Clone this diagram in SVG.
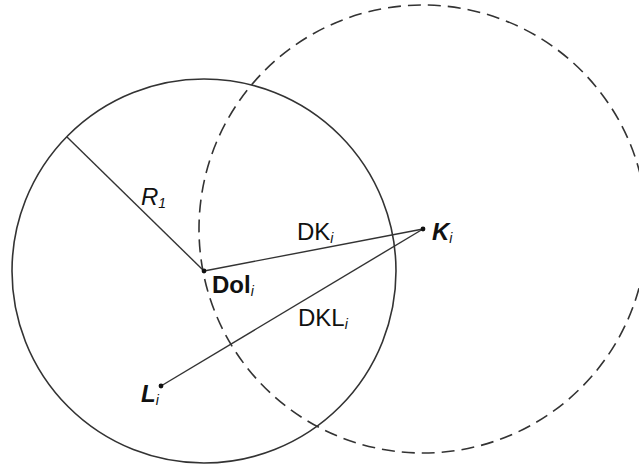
<svg xmlns="http://www.w3.org/2000/svg" width="639" height="468" viewBox="0 0 639 468">
<style>
.c{fill:none;stroke:#333;stroke-width:1.6}
.d{fill:none;stroke:#333;stroke-width:1.6;stroke-dasharray:13 7}
.l{stroke:#333;stroke-width:1.4}
.t{font-family:"Liberation Sans",Arial,sans-serif;font-size:24px;fill:#111}
.s{font-family:"Liberation Sans",Arial,sans-serif;font-size:14px;font-style:italic;fill:#111}
.dot{fill:#111}
</style>
<rect width="639" height="468" fill="#fff"/>
<g id="circle-solid"><circle class="c" cx="204" cy="271" r="192"/></g>
<g id="circle-dashed"><circle class="d" cx="423" cy="229" r="224"/></g>
<g id="connectors">
<line class="l" x1="204" y1="271" x2="67" y2="137"/>
<line class="l" x1="204" y1="271" x2="423" y2="229"/>
<line class="l" x1="161" y1="386" x2="423" y2="229"/>
</g>
<g id="Dol">
<circle class="dot" cx="204" cy="271" r="2.4"/>
<text class="t" x="212" y="293" font-weight="bold">Dol<tspan class="s" dy="3" font-weight="normal">i</tspan></text>
</g>
<g id="K">
<circle class="dot" cx="423" cy="229" r="2.4"/>
<text class="t" x="432" y="240" font-weight="bold" font-style="italic">K<tspan class="s" dy="3" font-weight="normal">i</tspan></text>
</g>
<g id="L">
<circle class="dot" cx="161" cy="386" r="2.4"/>
<text class="t" x="141" y="402" font-weight="bold" font-style="italic">L<tspan class="s" dy="3" font-weight="normal">i</tspan></text>
</g>
<g id="labels">
<text class="t" x="141" y="205" font-style="italic">R<tspan class="s" dy="3" font-style="normal">1</tspan></text>
<text class="t" x="297" y="240">DK<tspan class="s" dy="3">i</tspan></text>
<text class="t" x="298" y="326">DKL<tspan class="s" dy="3">i</tspan></text>
</g>
</svg>
